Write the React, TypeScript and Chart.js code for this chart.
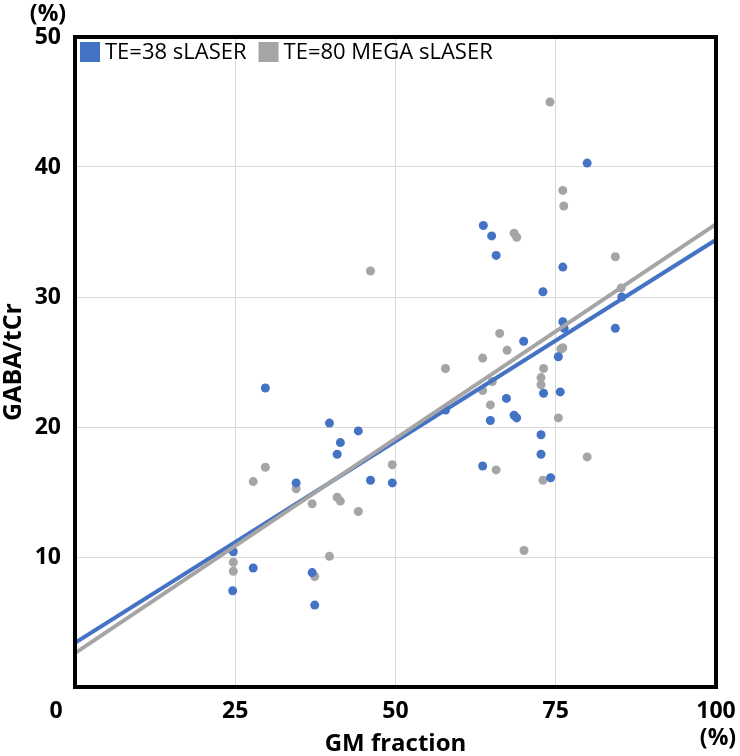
import React, { useEffect, useRef } from 'react';
import { Chart, registerables } from 'chart.js';

Chart.register(...registerables);

// ---- Data ----
const seriesLabels = ['TE=38 sLASER', 'TE=80 MEGA sLASER'];
const seriesColors = ['#4472C4', '#A5A5A5'];

const blueX = [24.6, 24.7, 27.8, 29.7, 34.5, 37.0, 37.4, 39.7, 40.9, 41.4, 44.2, 46.1, 49.5, 57.8, 63.6, 63.7, 64.8, 65.0, 65.7, 67.3, 68.5, 68.9, 70.0, 72.7, 72.7, 73.0, 73.1, 74.2, 75.4, 75.7, 76.1, 76.1, 76.3, 79.9, 84.3, 85.3];
const blueY = [7.4, 10.4, 9.15, 23.0, 15.7, 8.8, 6.3, 20.3, 17.9, 18.8, 19.7, 15.9, 15.7, 21.3, 17.0, 35.5, 20.5, 34.7, 33.2, 22.2, 20.9, 20.7, 26.6, 19.4, 17.9, 30.4, 22.6, 16.1, 25.4, 22.7, 32.3, 28.1, 27.6, 40.3, 27.6, 30.0];

const grayX = [24.7, 24.7, 27.8, 29.7, 34.5, 37.0, 37.4, 39.7, 40.9, 41.4, 44.2, 46.1, 49.5, 57.8, 63.6, 63.6, 64.8, 65.1, 65.7, 66.25, 67.4, 68.5, 68.9, 70.05, 72.7, 72.7, 73.0, 73.1, 74.1, 75.4, 75.8, 76.1, 76.1, 76.25, 79.9, 84.3, 85.2];
const grayY = [9.6, 8.9, 15.8, 16.9, 15.25, 14.1, 8.5, 10.05, 14.6, 14.3, 13.5, 32.0, 17.1, 24.5, 25.3, 22.8, 21.7, 23.5, 16.7, 27.2, 25.9, 34.9, 34.6, 10.5, 23.8, 23.25, 15.9, 24.5, 45.0, 20.7, 26.0, 26.1, 38.2, 37.0, 17.7, 33.1, 30.7];

// Trend lines (endpoints)
const trendX = [0, 100];
const blueTrendY = [3.4, 34.4];
const grayTrendY = [2.6, 35.6];

const xTickValues = [0, 25, 50, 75, 100];
const yTickValues = [0, 10, 20, 30, 40, 50];
const xTitle = 'GM fraction';
const yTitle = 'GABA/tCr';
const unitLabel = '(%)';

const FONT = "'Open Sans', 'Noto Sans', sans-serif";

const zip = (xs: number[], ys: number[]) => xs.map((x, i) => ({ x, y: ys[i] }));

export default function App() {
  const ref = useRef<HTMLCanvasElement>(null);

  useEffect(() => {
    const canvas = ref.current;
    if (!canvas) return;

    const extras = {
      id: 'extras',
      afterDraw(chart: any) {
        const { ctx, chartArea: a } = chart;
        ctx.save();
        // thick plot border
        ctx.strokeStyle = '#000';
        ctx.lineWidth = 4;
        ctx.strokeRect(a.left, a.top, a.right - a.left, a.bottom - a.top);

        // legend inside plot, top-left
        ctx.font = `22px ${FONT}`;
        ctx.textBaseline = 'middle';
        ctx.textAlign = 'left';
        let lx = a.left + 5;
        const ly = a.top + 15;
        const scatterSets = chart.data.datasets.filter((d: any) => d.isSeries);
        scatterSets.forEach((d: any) => {
          ctx.fillStyle = d.backgroundColor;
          ctx.fillRect(lx, ly - 10, 20, 20);
          lx += 25;
          ctx.fillStyle = '#000';
          ctx.fillText(d.label, lx, ly + 1);
          lx += ctx.measureText(d.label).width + 12;
        });

        // origin label and unit labels
        ctx.font = `bold 23px ${FONT}`;
        ctx.fillStyle = '#000';
        ctx.textAlign = 'center';
        ctx.fillText(String(xTickValues[0]), 56, 711);
        ctx.fillText(unitLabel, 48, 14);
        ctx.fillText(unitLabel, chart.scales.x.getPixelForValue(100) + 2, 738);
        ctx.restore();
      },
    };

    const chart = new Chart(canvas, {
      type: 'scatter',
      data: {
        datasets: [
          {
            type: 'line',
            label: 'trend-gray',
            data: zip(trendX, grayTrendY),
            borderColor: seriesColors[1],
            borderWidth: 4,
            pointRadius: 0,
            fill: false,
            order: 0,
          } as any,
          {
            type: 'line',
            label: 'trend-blue',
            data: zip(trendX, blueTrendY),
            borderColor: seriesColors[0],
            borderWidth: 4,
            pointRadius: 0,
            fill: false,
            order: 1,
          } as any,
          {
            label: seriesLabels[0],
            isSeries: true,
            data: zip(blueX, blueY),
            backgroundColor: seriesColors[0],
            borderColor: seriesColors[0],
            pointRadius: 4.5,
            pointBorderWidth: 0,
            order: 2,
          } as any,
          {
            label: seriesLabels[1],
            isSeries: true,
            data: zip(grayX, grayY),
            backgroundColor: seriesColors[1],
            borderColor: seriesColors[1],
            pointRadius: 4.5,
            pointBorderWidth: 0,
            order: 3,
          } as any,
        ],
      },
      options: {
        responsive: false,
        animation: false,
        layout: { padding: { top: 37, right: 24, left: 0, bottom: 0 } },
        plugins: {
          legend: { display: false },
          tooltip: { enabled: false },
        },
        scales: {
          x: {
            type: 'linear',
            min: xTickValues[0],
            max: xTickValues[xTickValues.length - 1],
            afterBuildTicks: (s: any) => {
              s.ticks = xTickValues.map((v) => ({ value: v }));
            },
            afterFit: (s: any) => {
              s.height = 69;
              s.paddingRight = 0;
              s.paddingLeft = 0;
            },
            ticks: {
              padding: 11,
              color: '#000',
              font: { family: FONT, size: 23, weight: 'bold' },
              callback: (v: any) => (v === 0 ? '' : String(v)),
            },
            grid: {
              color: (c: any) => (c.tick && (c.tick.value === 0 || c.tick.value === 100) ? 'rgba(0,0,0,0)' : '#D9D9D9'),
              lineWidth: 1,
              drawTicks: false,
            },
            border: { display: false },
            title: {
              display: true,
              text: xTitle,
              color: '#000',
              font: { family: FONT, size: 24, weight: 'bold', lineHeight: 1 },
              padding: { top: 0, bottom: 0 },
            },
          },
          y: {
            type: 'linear',
            min: yTickValues[0],
            max: yTickValues[yTickValues.length - 1],
            afterBuildTicks: (s: any) => {
              s.ticks = yTickValues.map((v) => ({ value: v }));
            },
            afterFit: (s: any) => {
              s.width = 75;
              s.paddingTop = 0;
              s.paddingBottom = 0;
            },
            ticks: {
              padding: 14,
              color: '#000',
              font: { family: FONT, size: 23, weight: 'bold' },
              callback: (v: any) => (v === 0 ? '' : String(v)),
            },
            grid: {
              color: (c: any) => (c.tick && (c.tick.value === 0 || c.tick.value === 50) ? 'rgba(0,0,0,0)' : '#D9D9D9'),
              lineWidth: 1,
              drawTicks: false,
            },
            border: { display: false },
            title: {
              display: true,
              text: yTitle,
              color: '#000',
              font: { family: FONT, size: 25, weight: 'bold', lineHeight: 1.1 },
              padding: 0,
            },
          },
        },
      } as any,
      plugins: [extras],
    });

    return () => chart.destroy();
  }, []);

  return (
    <div style={{ position: 'absolute', left: 0, top: 0, width: 740, height: 756, background: '#fff' }}>
      <canvas ref={ref} width={740} height={756} style={{ display: 'block' }} />
    </div>
  );
}
